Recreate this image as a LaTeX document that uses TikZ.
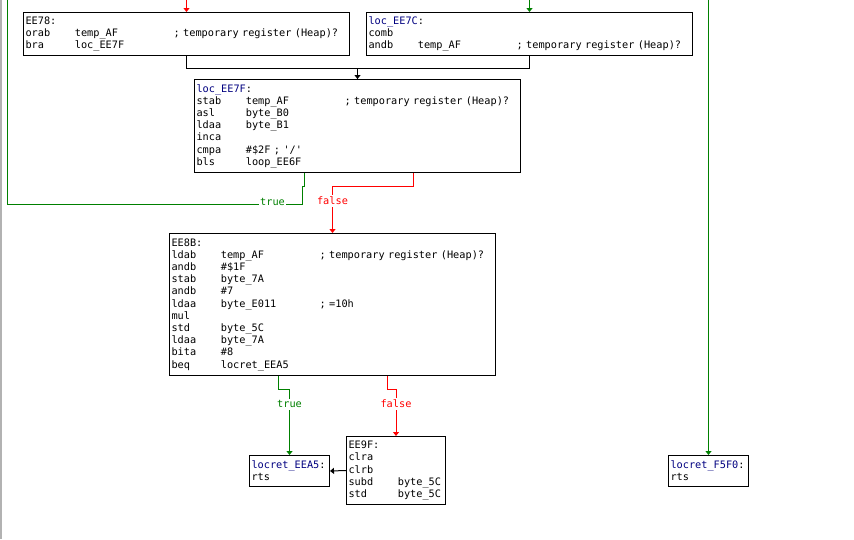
\documentclass[tikz,border=0pt]{standalone}
\usepackage{fontspec}
\usepackage{tikz}
\usetikzlibrary{arrows.meta,calc}

\newfontfamily\asmfamily{DejaVu Sans Mono}
\newcommand\asmfont{\asmfamily\fontsize{10.25}{12.2}\selectfont}
\newcommand\op[2]{\makebox[4.816em][l]{#1}#2}
\newcommand\ins[3]{\makebox[4.816em][l]{#1}\makebox[9.632em][l]{#2}#3}
\definecolor{idagreen}{RGB}{0,128,0}
\definecolor{idared}{RGB}{255,0,0}
\definecolor{idablue}{RGB}{0,0,128}
\newcommand\lbl[1]{\textcolor{idablue}{#1}:}

\begin{document}
\begin{tikzpicture}[
        x=1pt, y=-1pt,
        blok/.style={draw, rectangle, anchor=north west, align=left, inner xsep=2pt, inner ysep=0pt, font=\asmfont, line width=1pt},
        wire/.style={draw, line width=1pt},
        link/.style={wire, -{Triangle[width=6pt,length=4pt]}},
        cond/.style={font=\asmfont, fill=white, inner xsep=1pt, inner ysep=2pt, anchor=base, yshift=-1pt}
    ]
        \useasboundingbox (0,0) rectangle (854,539);
        \draw[gray!60, line width=2pt] (1,0) -- (1,539);

        % Nodes
        \node[blok, minimum width=326pt, minimum height=43pt, text width=322pt] (ee78) at (23,12)
            {EE78:\\ \ins{orab}{temp\_AF}{; temporary register (Heap)?}\\ \op{bra}{loc\_EE7F}};
        \node[blok, minimum width=326pt, minimum height=43pt, text width=322pt] (ee7c) at (366,12)
            {\lbl{loc\_EE7C}\\ comb\\ \ins{andb}{temp\_AF}{; temporary register (Heap)?}};
        \node[blok, minimum width=326pt, minimum height=93pt, text width=322pt] (ee7f) at (194,79)
            {\lbl{loc\_EE7F}\\ \ins{stab}{temp\_AF}{; temporary register (Heap)?}\\ \op{asl}{byte\_B0}\\
             \op{ldaa}{byte\_B1}\\ inca\\ \op{cmpa}{\#\$2F ; '/'}\\ \op{bls}{loop\_EE6F}};
        \node[blok, minimum width=326pt, minimum height=142pt, text width=322pt] (ee8b) at (169,233)
            {EE8B:\\ \ins{ldab}{temp\_AF}{; temporary register (Heap)?}\\ \op{andb}{\#\$1F}\\ \op{stab}{byte\_7A}\\
             \op{andb}{\#7}\\ \ins{ldaa}{byte\_E011}{; =10h}\\ mul\\ \op{std}{byte\_5C}\\ \op{ldaa}{byte\_7A}\\
             \op{bita}{\#8}\\ \op{beq}{locret\_EEA5}};
        \node[blok, minimum width=80pt, minimum height=31pt, text width=76pt] (eea5) at (249,455)
            {\lbl{locret\_EEA5}\\ rts};
        \node[blok, minimum width=99pt, minimum height=68pt, text width=95pt] (ee9f) at (346,436)
            {EE9F:\\ clra\\ clrb\\ \op{subd}{byte\_5C}\\ \op{std}{byte\_5C}};
        \node[blok, minimum width=80pt, minimum height=31pt, text width=76pt] (f5f0) at (668,455)
            {\lbl{locret\_F5F0}\\ rts};

        \coordinate (inred) at (ee78.north |- 0,0);
        \coordinate (ingreen) at (ee7c.north |- 0,0);
        \coordinate (toloop) at (7,0);
        \coordinate (infar) at (f5f0.north |- 0,0);

        % Arrows
        \path[link, idared] (inred) -- (ee78.north);
        \path[link, idagreen] (ingreen) -- (ee7c.north);
        \path[link] (ee78.south) -- ++(0,12) -| (ee7f.north);
        \path[wire] (ee7c.south) -- ++(0,12) -| (ee7f.north);
        \path[wire, idagreen] ($(ee7f.south west)+(110,0)$) -- ++(0,13) -- ++(-2,0) -- ++(0,18) coordinate (tbend)
            -- node[cond, pos=0.1] {true} (tbend -| toloop) -- (toloop);
        \path[link, idared] ($(ee7f.south west)+(219,0)$) -- ++(0,13) -| node[cond, pos=0.6875] {false} (ee8b.north);
        \path[link, idagreen] ($(ee8b.south west)+(109,0)$) -- ++(0,13) -| node[cond, pos=0.635] {true} (eea5.north);
        \path[link, idared] ($(ee8b.south west)+(218,0)$) -- ++(0,13) -| node[cond, pos=0.6875] {false} (ee9f.north);
        \path[link] (ee9f.west) -- (eea5.east);
        \path[link, idagreen] (infar) -- (f5f0.north);
    \end{tikzpicture}
\end{document}
